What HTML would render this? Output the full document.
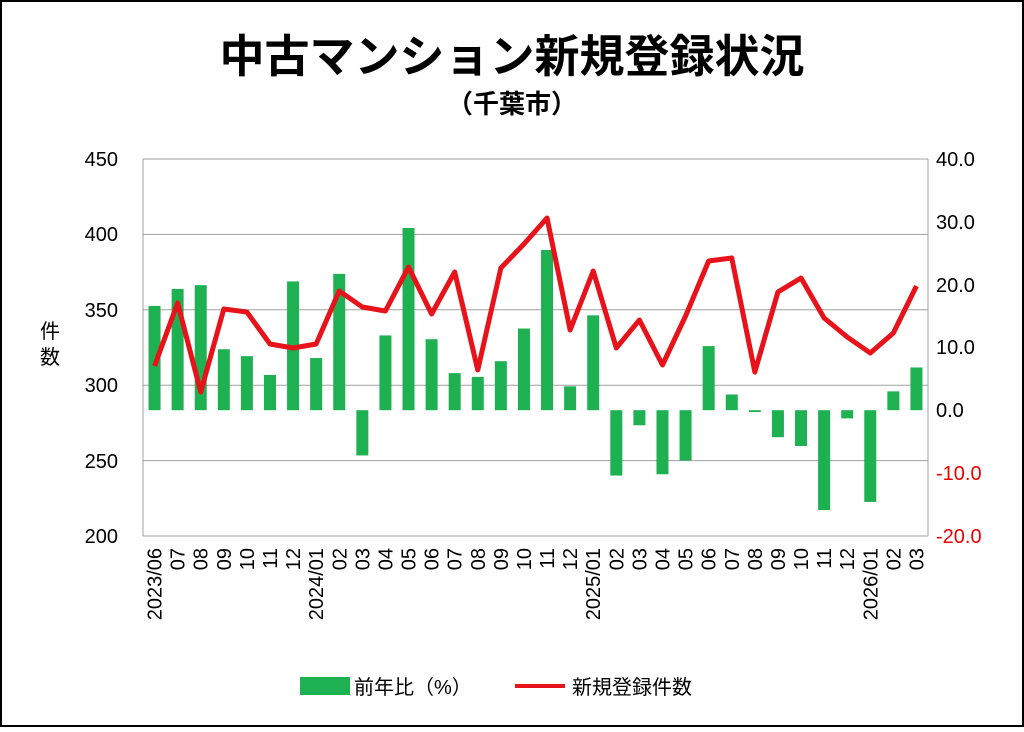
<!DOCTYPE html><html><head><meta charset="utf-8"><style>
body{margin:0;background:#fff}
svg text{font-family:"Liberation Sans","Noto Sans CJK JP",sans-serif}
</style></head><body>
<svg width="1024" height="727" xmlns="http://www.w3.org/2000/svg">
<rect x="1" y="1" width="1022" height="725" fill="#fff" stroke="#000" stroke-width="2"/>
<text x="512" y="72" font-size="45" font-weight="bold" text-anchor="middle">中古マンション新規登録状況</text>
<text x="512" y="113" font-size="26" font-weight="600" text-anchor="middle">（千葉市）</text>
<g stroke="#a0a0a0" stroke-width="1">
<line x1="143" y1="159" x2="928" y2="159"/><line x1="143" y1="234.4" x2="928" y2="234.4"/>
<line x1="143" y1="309.8" x2="928" y2="309.8"/><line x1="143" y1="385.2" x2="928" y2="385.2"/>
<line x1="143" y1="460.6" x2="928" y2="460.6"/><line x1="143" y1="536" x2="928" y2="536"/>
<line x1="143" y1="159" x2="143" y2="536"/><line x1="928" y1="159" x2="928" y2="536"/>
</g>
<g font-size="20" text-anchor="end">
<text x="118" y="166">450</text><text x="118" y="241">400</text><text x="118" y="317">350</text>
<text x="118" y="392">300</text><text x="118" y="468">250</text><text x="118" y="543">200</text>
</g>
<g font-size="20">
<text x="936" y="166">40.0</text><text x="936" y="229">30.0</text><text x="936" y="292">20.0</text>
<text x="936" y="354">10.0</text><text x="936" y="417">0.0</text>
<text x="936" y="480" fill="#e00">-10.0</text><text x="936" y="543" fill="#e00">-20.0</text>
</g>
<text x="50" y="338" font-size="20" text-anchor="middle">件</text>
<text x="50" y="364" font-size="20" text-anchor="middle">数</text>
<g id="bars" fill="#1db152"></g>
<polyline id="ln" fill="none" stroke="#e8121b" stroke-width="5" stroke-linejoin="round"/>
<g id="xl" font-size="20"></g>
<rect x="300" y="677" width="50" height="18" fill="#1db152"/>
<text x="354" y="694" font-size="20">前年比（%）</text>
<line x1="515" y1="686" x2="565" y2="686" stroke="#e8121b" stroke-width="4"/>
<text x="572" y="694" font-size="20">新規登録件数</text>
<script>
var bv=[16.6,19.3,19.9,9.7,8.6,5.6,20.5,8.3,21.7,-7.2,11.9,29,11.3,5.9,5.3,7.8,13,25.5,3.8,15.1,-10.4,-2.4,-10.2,-8,10.2,2.5,-0.3,-4.3,-5.7,-15.9,-1.3,-14.6,3,6.8];
var ly=[366,303,392,309,312,344,348,344,291,307,311,267,314,272,370,268,244,218,330,271,348,320,365,316,261,258,372,292,278,318,337,353,333,286];
var lab=["2023/06","07","08","09","10","11","12","2024/01","02","03","04","05","06","07","08","09","10","11","12","2025/01","02","03","04","05","06","07","08","09","10","11","12","2026/01","02","03"];
var ns="http://www.w3.org/2000/svg",w=785/34,z=410.2,b=document.getElementById("bars"),xl=document.getElementById("xl"),pts=[];
for(var i=0;i<34;i++){var cx=143+w*(i+0.5),h=bv[i]*6.283;
var r=document.createElementNS(ns,"rect");r.setAttribute("x",cx-6);r.setAttribute("width",12);
r.setAttribute("y",h>0?z-h:z);r.setAttribute("height",Math.max(Math.abs(h),1.5));b.appendChild(r);
pts.push(cx+","+ly[i]);
var t=document.createElementNS(ns,"text");t.setAttribute("transform","translate("+(cx+7)+",548) rotate(-90)");
t.setAttribute("text-anchor","end");t.textContent=lab[i];xl.appendChild(t);}
document.getElementById("ln").setAttribute("points",pts.join(" "));
</script>
</svg></body></html>
